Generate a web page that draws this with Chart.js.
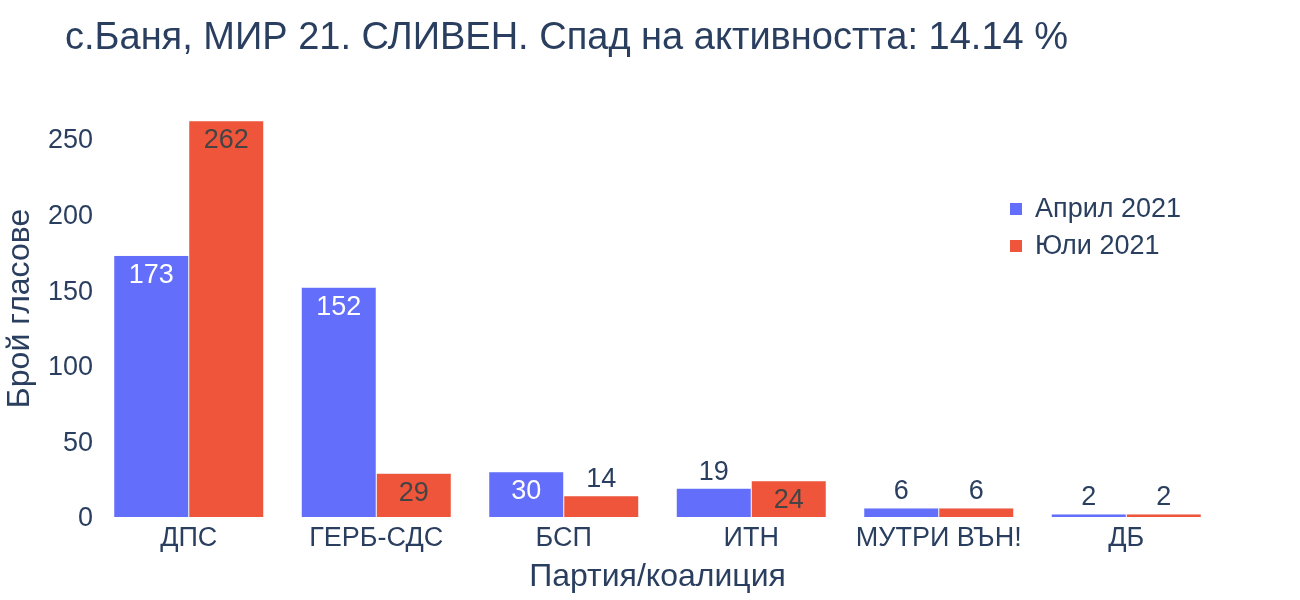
<!DOCTYPE html>
<html>
<head>
<meta charset="utf-8">
<script src="https://cdn.jsdelivr.net/npm/chart.js@4.4.1/dist/chart.umd.min.js"></script>
<style>
  html, body { margin: 0; padding: 0; background: #fff; }
  #wrap { width: 1300px; height: 600px; }
</style>
</head>
<body>
<div id="wrap"><canvas id="chart" width="1300" height="600"></canvas></div>
<script>
const parties = ["ДПС", "ГЕРБ-СДС", "БСП", "ИТН", "МУТРИ ВЪН!", "ДБ"];
const april2021 = [173, 152, 30, 19, 6, 2];
const july2021 = [262, 29, 14, 24, 6, 2];
const seriesNames = ["Април 2021", "Юли 2021"];
const yTicks = [0, 50, 100, 150, 200, 250];
const chartTitle = "с.Баня, МИР 21. СЛИВЕН. Спад на активността: 14.14 %";

const FONT = "'Liberation Sans', Arial, sans-serif";
const TEXT = "#2a3f5f";
const BLUE = "#636efa";
const RED = "#EF553B";

const titlePlugin = {
  id: "plotTitle",
  afterDraw(chart) {
    const ctx = chart.ctx;
    ctx.save();
    ctx.font = "38px " + FONT;
    ctx.fillStyle = TEXT;
    ctx.textAlign = "left";
    ctx.textBaseline = "middle";
    ctx.fillText(chartTitle, 65, 39);
    ctx.restore();
  },
};

const legendPlugin = {
  id: "plotLegend",
  afterDraw(chart) {
    const ctx = chart.ctx;
    ctx.save();
    ctx.font = "27px " + FONT;
    ctx.textBaseline = "middle";
    chart.data.datasets.forEach((ds, i) => {
      const y = 209 + i * 37;
      ctx.fillStyle = ds.backgroundColor;
      ctx.fillRect(1010, y - 6, 12, 12);
      ctx.fillStyle = TEXT;
      ctx.fillText(ds.label, 1035, y + 1);
    });
    ctx.restore();
  },
};

const barLabels = {
  id: "barLabels",
  afterDatasetsDraw(chart) {
    const ctx = chart.ctx;
    ctx.save();
    ctx.font = "27px " + FONT;
    ctx.textAlign = "center";
    ctx.textBaseline = "middle";
    chart.data.datasets.forEach((ds, i) => {
      chart.getDatasetMeta(i).data.forEach((bar, j) => {
        const h = bar.base - bar.y;
        const txt = String(ds.data[j]);
        if (h >= 33) {
          ctx.fillStyle = i === 0 ? "#ffffff" : "#444444";
          ctx.fillText(txt, bar.x, bar.y + 20);
        } else {
          ctx.fillStyle = TEXT;
          ctx.fillText(txt, bar.x, bar.y - 16);
        }
      });
    });
    ctx.restore();
  },
};

new Chart(document.getElementById("chart"), {
  type: "bar",
  data: {
    labels: parties,
    datasets: [
      { label: seriesNames[0], data: april2021, backgroundColor: BLUE, borderColor: "#E5ECF6", borderWidth: 0.5 },
      { label: seriesNames[1], data: july2021, backgroundColor: RED, borderColor: "#E5ECF6", borderWidth: 0.5 },
    ],
  },
  options: {
    responsive: false,
    animation: false,
    events: [],
    categoryPercentage: 0.8,
    barPercentage: 1.0,
    layout: { padding: { top: 100, right: 80, left: 0, bottom: 0 } },
    plugins: {
      legend: { display: false },
      tooltip: { enabled: false },
      title: { display: false },
    },
    scales: {
      x: {
        grid: { display: false, drawTicks: false },
        border: { display: false },
        ticks: { color: TEXT, font: { family: FONT, size: 27 }, padding: 5, maxRotation: 0, autoSkip: false },
        title: { display: true, text: "Партия/коалиция", color: TEXT, font: { family: FONT, size: 32 }, padding: { top: 0, bottom: 4 } },
        afterFit(scale) { scale.height = 83; },
      },
      y: {
        min: 0,
        max: 275.8,
        grid: { display: false, drawTicks: false },
        border: { display: false },
        afterBuildTicks(scale) { scale.ticks = yTicks.map((v) => ({ value: v })); },
        ticks: { color: TEXT, font: { family: FONT, size: 27 }, padding: 2, labelOffset: 2 },
        title: { display: true, text: "Брой гласове", color: TEXT, font: { family: FONT, size: 32 }, padding: { top: 1, bottom: 0 } },
        afterFit(scale) { scale.width = 95; },
      },
    },
  },
  plugins: [barLabels, legendPlugin, titlePlugin],
});
</script>
</body>
</html>
